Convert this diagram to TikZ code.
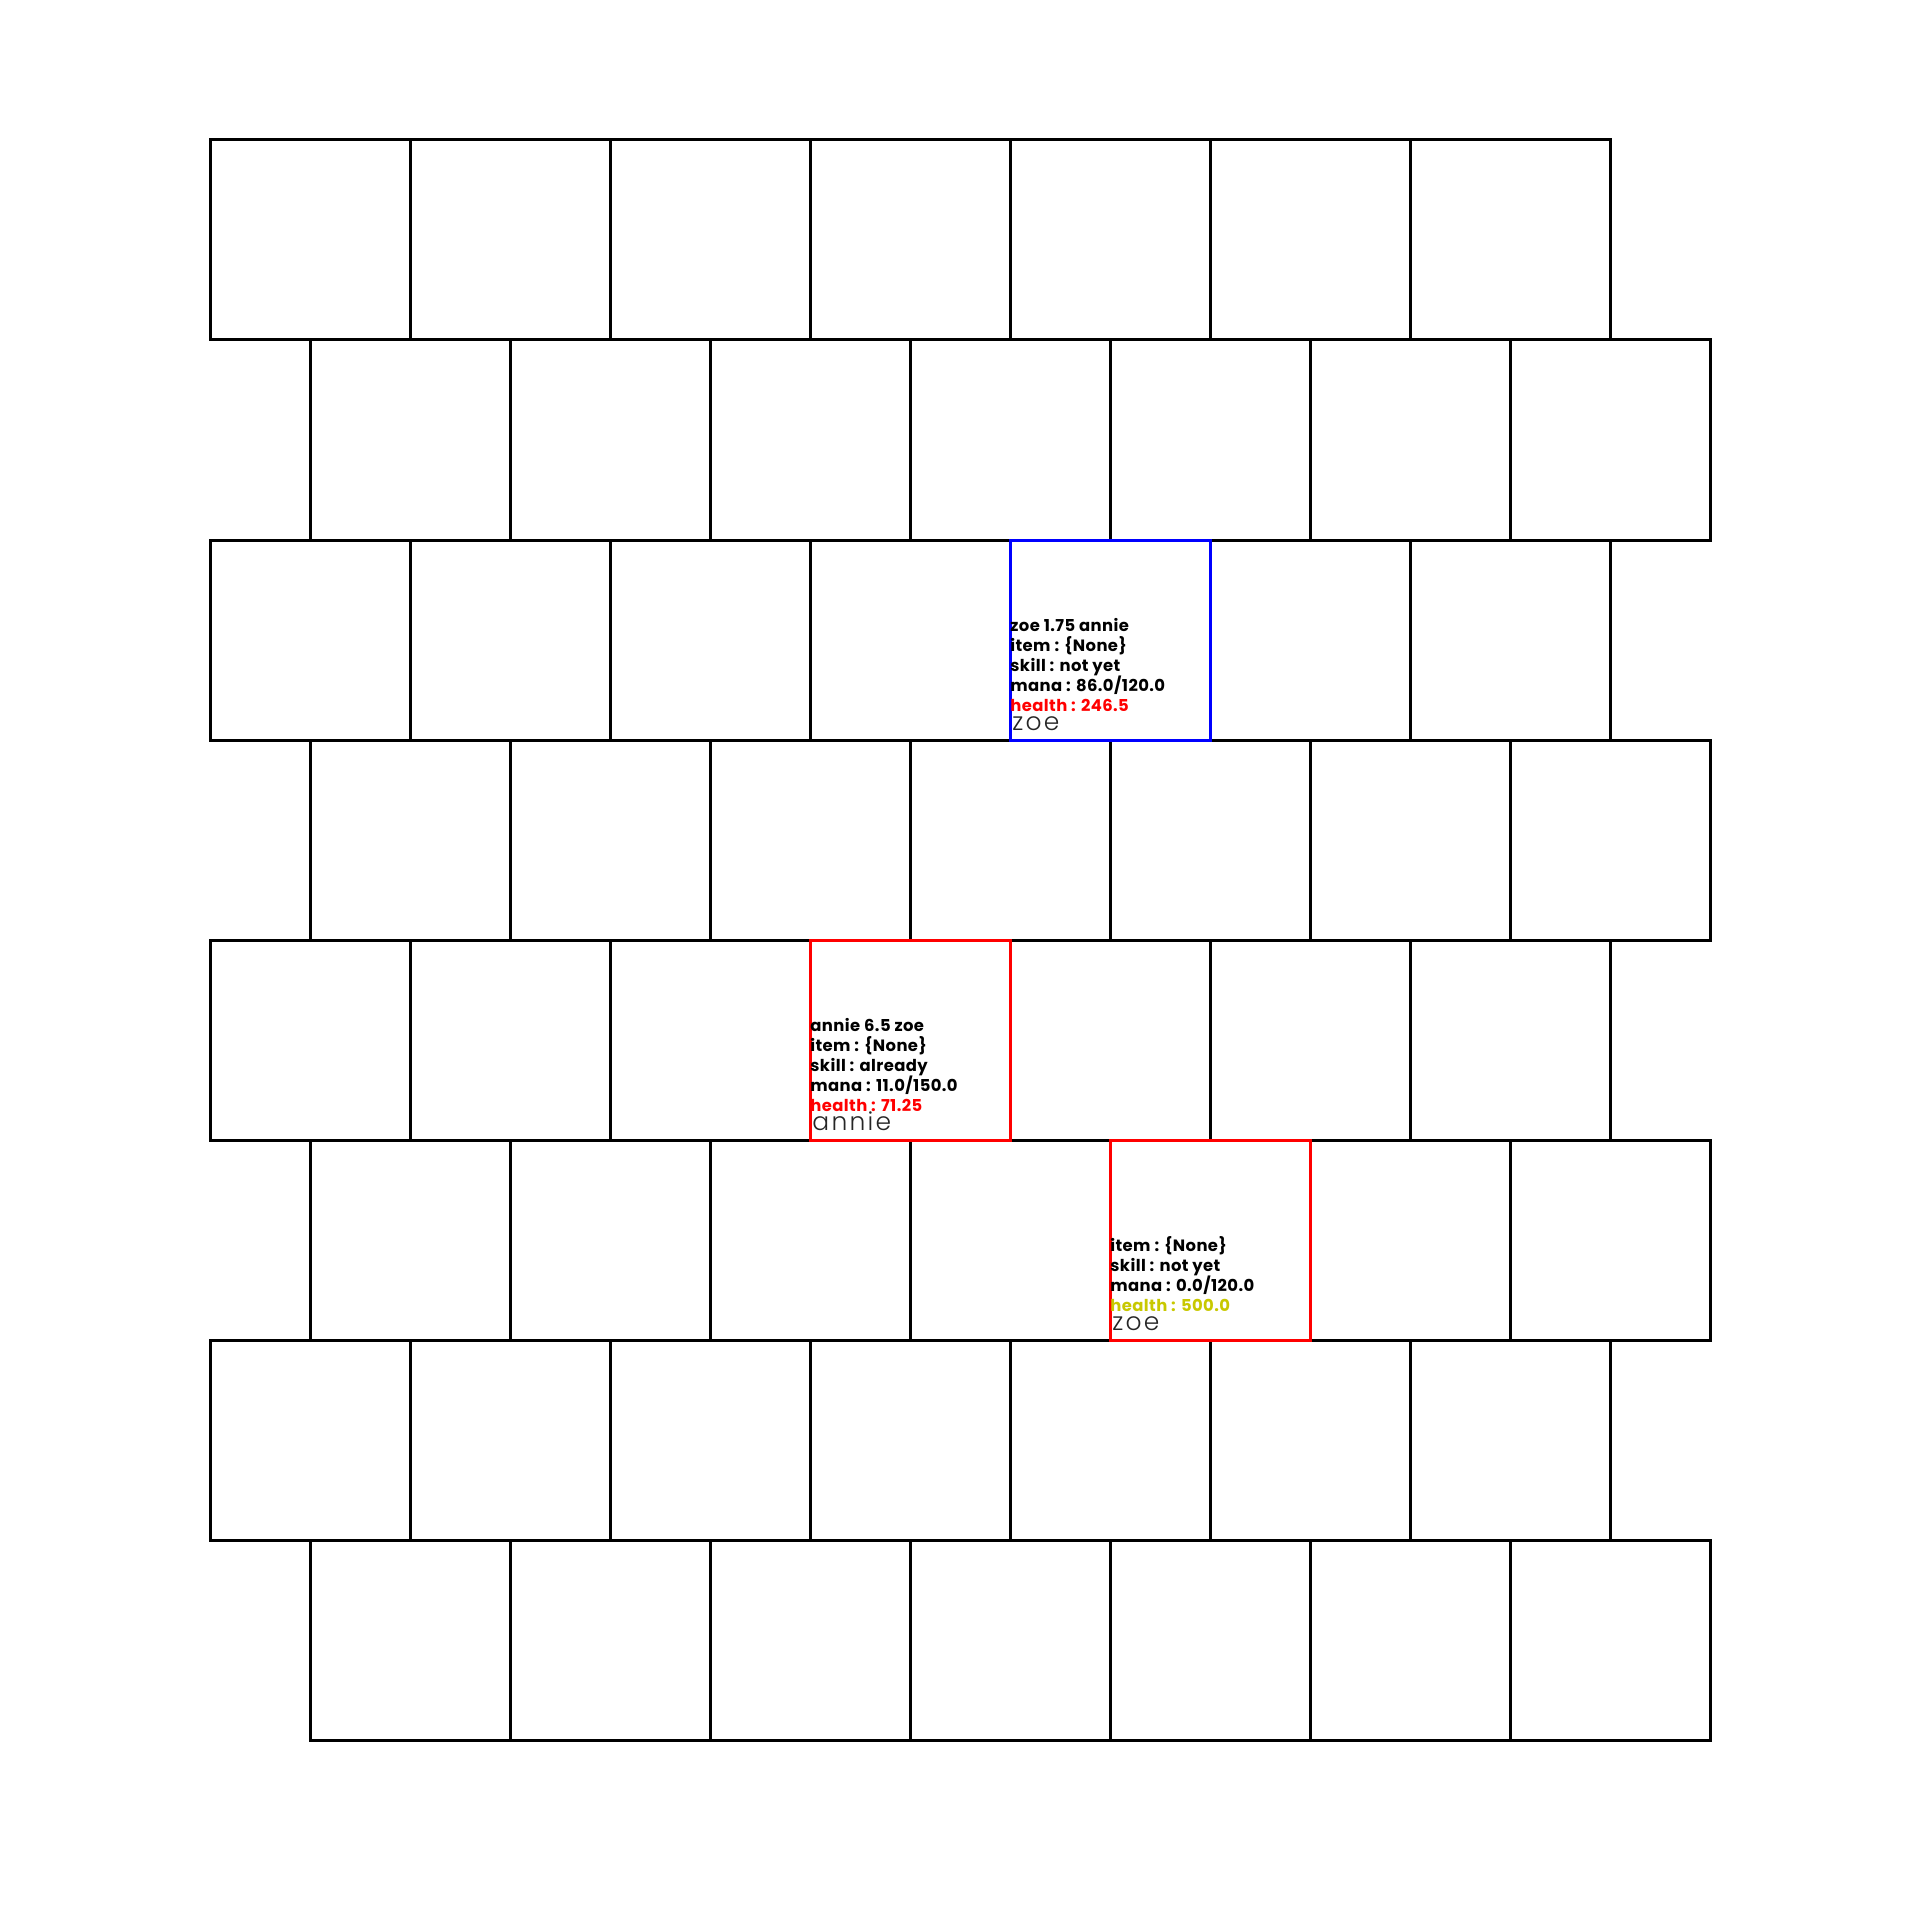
\documentclass[tikz,border=0pt]{standalone}
\usepackage{fontspec}
\setmainfont{Poppins}
\newfontfamily\infofont{Poppins}[LetterSpace=2.5]
\newfontfamily\lightname{Poppins Light}[LetterSpace=9]
\definecolor{hpred}{RGB}{255,0,0}
\definecolor{hpyellow}{RGB}{200,200,0}
\definecolor{selblue}{RGB}{0,0,255}
\tikzset{
  cellbox/.style={draw=black, line width=1.5pt},
  selbox/.style={draw=#1, line width=1.5pt},
  info/.style={anchor=base west, inner sep=0pt, font=\fontsize{8.2}{9}\infofont\bfseries},
  bigname/.style={anchor=base west, inner sep=0pt, font=\fontsize{12.5}{14}\lightname, text=black!85},
}
\begin{document}
\begin{tikzpicture}[x=0.5pt,y=-0.5pt]
\useasboundingbox (0,0) rectangle (1920,1920);
\foreach \r in {0,...,7}{
  \pgfmathtruncatemacro{\off}{mod(\r,2)*100}
  \foreach \c in {0,...,6}{
    \path[cellbox] ({210+\off+200*\c},{140+200*\r}) rectangle ++(200,200)
      coordinate (c-\r-\c);
  }
}
% selected cells
\path[selbox=selblue] (1010,540) rectangle (1210,740);
\path[selbox=hpred] (810,940) rectangle (1010,1140);
\path[selbox=hpred] (1110,1140) rectangle (1310,1340);
% zoe (blue)
\node[info] (z1) at (1010,631) {zoe 1.75 annie};
\node[info] (z2) at (1010,651) {item : \{None\}};
\node[info] (z3) at (1010,671) {skill : not yet};
\node[info] (z4) at (1010,691) {mana : 86.0/120.0};
\node[info, text=hpred] (z5) at (1010,711) {health : 246.5};
\node[bigname] (z6) at (1012,730) {zoe};
% annie
\node[info] (a1) at (810,1031) {annie 6.5 zoe};
\node[info] (a2) at (810,1051) {item : \{None\}};
\node[info] (a3) at (810,1071) {skill : already};
\node[info] (a4) at (810,1091) {mana : 11.0/150.0};
\node[info, text=hpred] (a5) at (810,1111) {health : 71.25};
\node[bigname] (a6) at (812,1130) {annie};
% zoe (red)
\node[info] (b2) at (1110,1251) {item : \{None\}};
\node[info] (b3) at (1110,1271) {skill : not yet};
\node[info] (b4) at (1110,1291) {mana : 0.0/120.0};
\node[info, text=hpyellow] (b5) at (1110,1311) {health : 500.0};
\node[bigname] (b6) at (1112,1330) {zoe};
\end{tikzpicture}
\end{document}
